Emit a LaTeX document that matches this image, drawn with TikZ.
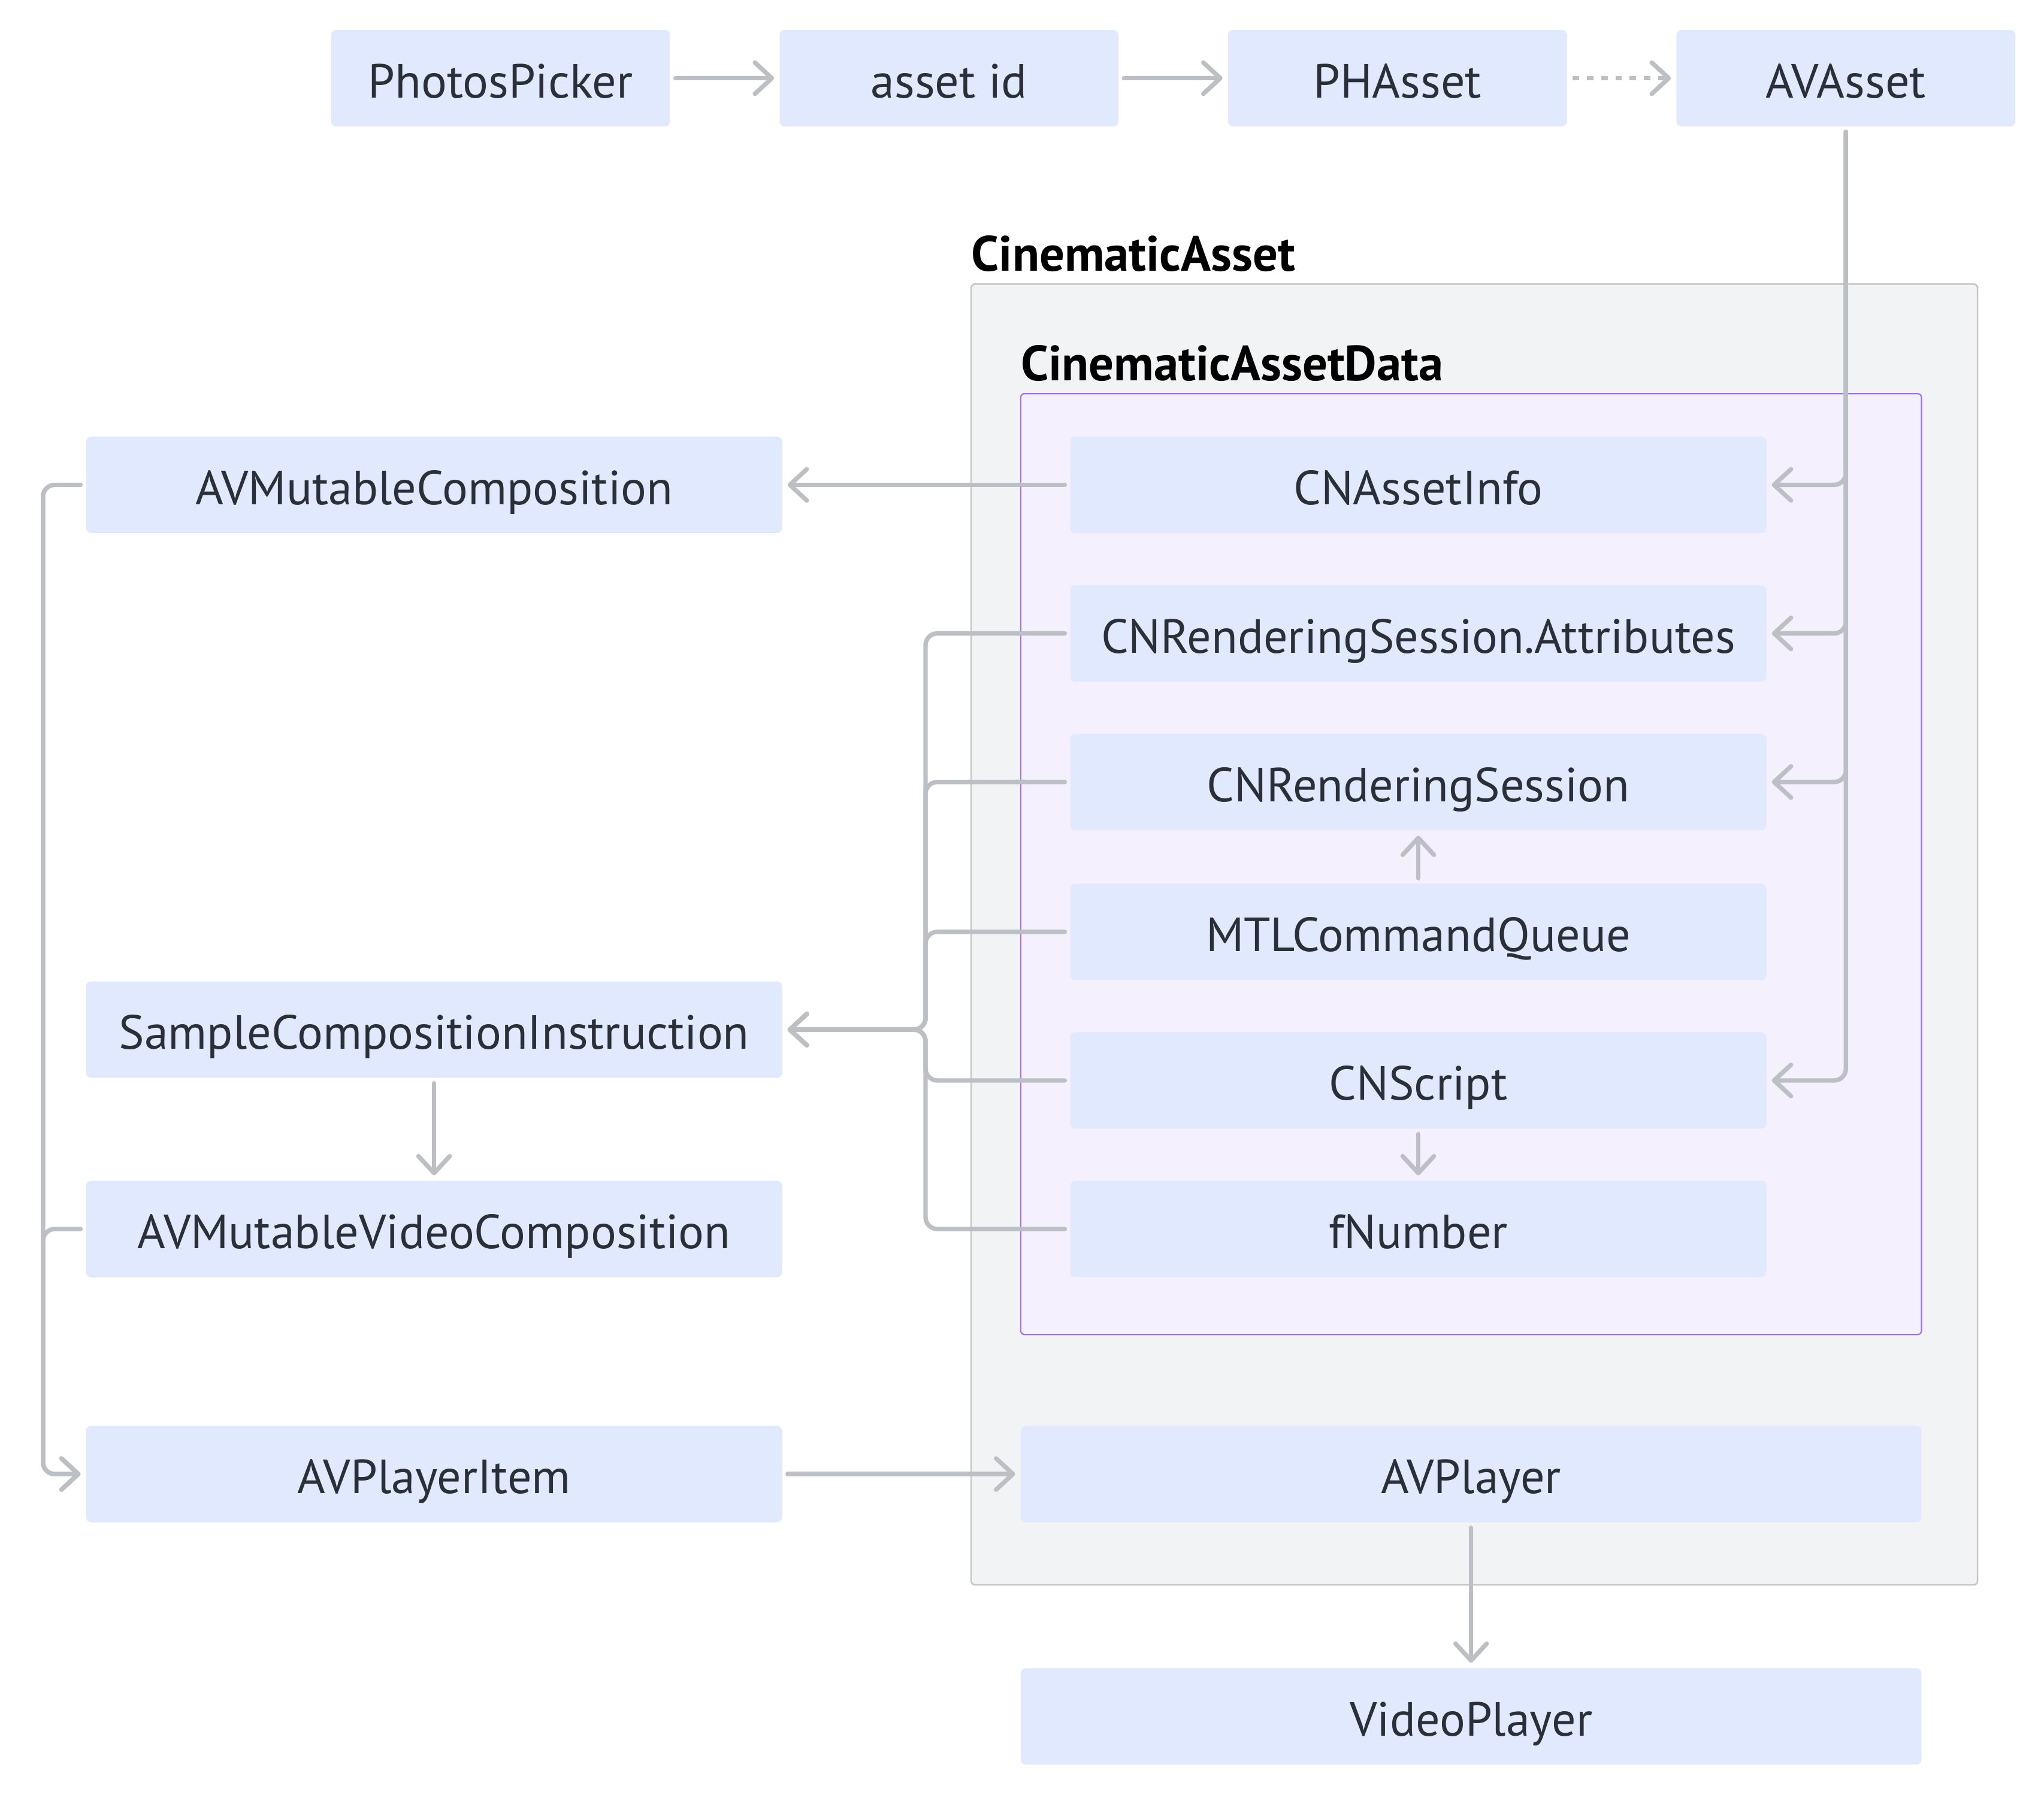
\documentclass[tikz,border=0pt]{standalone}
\usepackage{fontspec}
\setmainfont{PT Sans}
\usetikzlibrary{arrows.meta}

\definecolor{nodefill}{HTML}{E0E9FD}
\definecolor{nodetext}{HTML}{2B3038}
\definecolor{edgegray}{HTML}{BCBFC4}
\definecolor{outerfill}{HTML}{F2F3F5}
\definecolor{outerline}{HTML}{C4C6CA}
\definecolor{datafill}{HTML}{F4F0FE}
\definecolor{dataline}{HTML}{9F70F5}

\begin{document}
\begin{tikzpicture}[x=1pt, y=-1pt,
  box/.style={rectangle, fill=nodefill, rounded corners=4pt, minimum height=74pt,
    inner sep=0pt, text height=36pt, text depth=6pt, text=nodetext,
    font=\fontsize{36.8}{44}\selectfont},
  flow/.style={draw=edgegray, line width=3.4pt, line cap=round, rounded corners=9pt,
    shorten <=4pt, shorten >=4pt, -{Straight Barb[length=13pt, width=24pt, round]}},
  dotflow/.style={flow, line cap=butt, dash pattern=on 5pt off 6pt},
  grouplabel/.style={anchor=base west, inner sep=0pt, font=\fontsize{38}{44}\selectfont\bfseries}]

  % Canvas
  \fill[white] (0,0) rectangle (1568,1377);
  \useasboundingbox (0,0) rectangle (1568,1377);

  % Groups
  \draw[fill=outerfill, draw=outerline, line width=1.2pt, rounded corners=3pt] (745,218) rectangle (1517,1216);
  \node[grouplabel] (assetlbl) at (745,208) {CinematicAsset};
  \draw[fill=datafill, draw=dataline, line width=1pt, rounded corners=3pt] (783,302) rectangle (1474,1024);
  \node[grouplabel] (datalbl) at (783,292) {CinematicAssetData};

  % Top row
  \node[box, minimum width=260pt] (picker) at (384,60) {PhotosPicker};
  \node[box, minimum width=260pt] (assetid) at (728,60) {asset id};
  \node[box, minimum width=260pt] (phasset) at (1072,60) {PHAsset};
  \node[box, minimum width=260pt] (avasset) at (1416,60) {AVAsset};

  % CinematicAssetData members
  \node[box, minimum width=534pt] (info) at (1088,372) {CNAssetInfo};
  \node[box, minimum width=534pt] (attrs) at (1088,486) {CNRenderingSession.Attributes};
  \node[box, minimum width=534pt] (session) at (1088,600) {CNRenderingSession};
  \node[box, minimum width=534pt] (queue) at (1088,715) {MTLCommandQueue};
  \node[box, minimum width=534pt] (script) at (1088,829) {CNScript};
  \node[box, minimum width=534pt] (fnum) at (1088,943) {fNumber};

  % Players
  \node[box, minimum width=691pt] (player) at (1128.5,1131) {AVPlayer};
  \node[box, minimum width=691pt] (video) at (1128.5,1317) {VideoPlayer};

  % Composition side
  \node[box, minimum width=534pt] (amc) at (333,372) {AVMutableComposition};
  \node[box, minimum width=534pt] (sci) at (333,790) {SampleCompositionInstruction};
  \node[box, minimum width=534pt] (amvc) at (333,943) {AVMutableVideoComposition};
  \node[box, minimum width=534pt] (item) at (333,1131) {AVPlayerItem};

  % Bus lines
  \coordinate (bus) at (710,0);
  \coordinate (ltrunk) at (33,0);

  % Edges
  \draw[flow] (picker.east) -- (assetid.west);
  \draw[flow] (assetid.east) -- (phasset.west);
  \draw[dotflow] (phasset.east) -- (avasset.west);
  \foreach \t in {info, attrs, session, script}
    \draw[flow] (avasset.south) |- (\t.east);
  \draw[flow] (info.west) -- (amc.east);
  \foreach \s in {attrs, session, queue, script, fnum}
    \draw[flow] (\s.west) -- (\s.west -| bus) |- (sci.east);
  \draw[flow] (queue.north) -- (session.south);
  \draw[flow] (script.south) -- (fnum.north);
  \draw[flow] (sci.south) -- (amvc.north);
  \draw[flow] (amc.west) -- (amc.west -| ltrunk) |- (item.west);
  \draw[flow] (amvc.west) -- (amvc.west -| ltrunk) |- (item.west);
  \draw[flow] (item.east) -- (player.west);
  \draw[flow] (player.south) -- (video.north);
\end{tikzpicture}
\end{document}
